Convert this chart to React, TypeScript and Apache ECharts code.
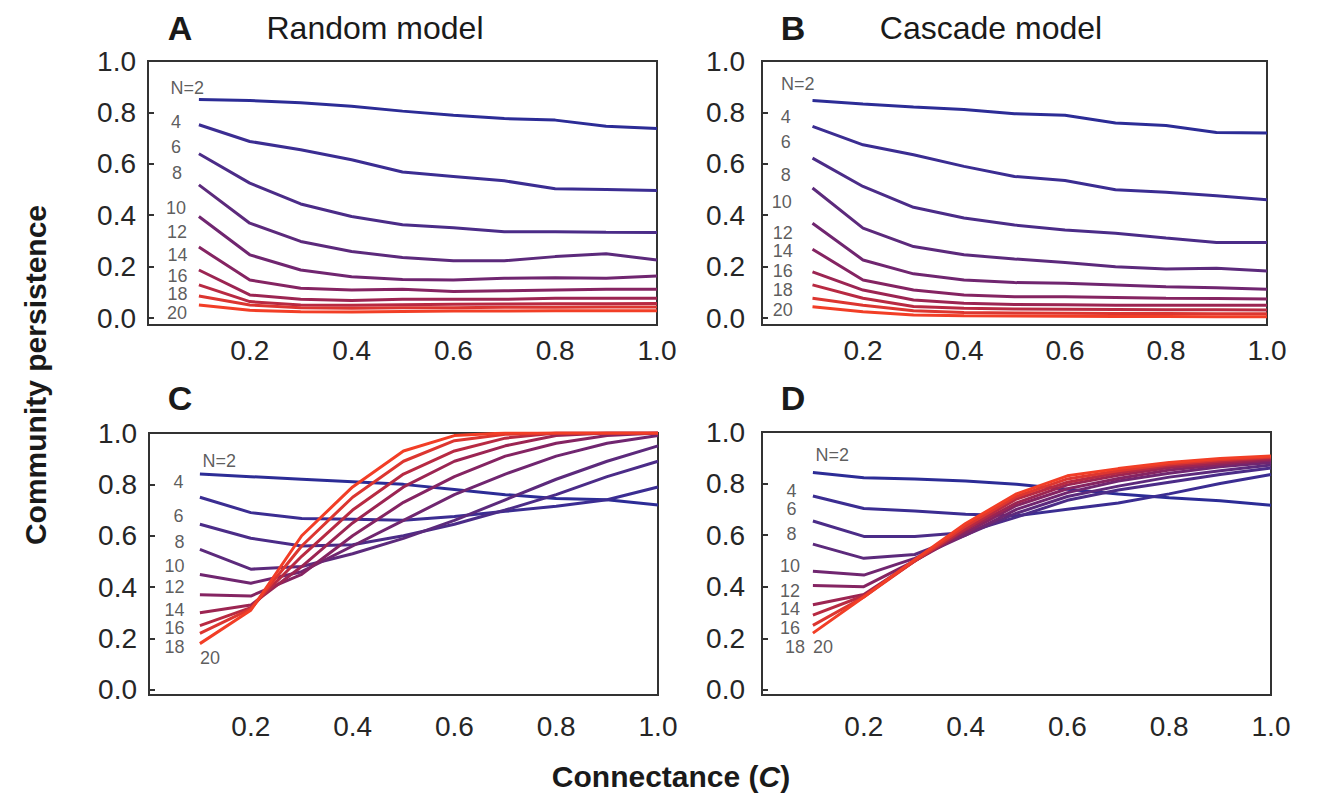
import React, { useEffect, useRef } from "react";
import * as echarts from "echarts";

// Connectance values (x)
const X = [0.1, 0.2, 0.3, 0.4, 0.5, 0.6, 0.7, 0.8, 0.9, 1.0];
const N_LABELS = ["N=2", "4", "6", "8", "10", "12", "14", "16", "18", "20"];
const Y_TICKS = [0, 0.2, 0.4, 0.6, 0.8, 1.0];
const X_TICKS = [0.2, 0.4, 0.6, 0.8, 1.0];

// Panel A – Random model (top)
const A2 = [0.85, 0.846, 0.838, 0.824, 0.805, 0.789, 0.776, 0.77, 0.746, 0.737];
const A4 = [0.752, 0.687, 0.655, 0.616, 0.568, 0.551, 0.534, 0.503, 0.5, 0.496];
const A6 = [0.639, 0.525, 0.444, 0.395, 0.363, 0.351, 0.336, 0.336, 0.334, 0.333];
const A8 = [0.518, 0.369, 0.298, 0.259, 0.236, 0.223, 0.223, 0.239, 0.25, 0.226];
const A10 = [0.395, 0.246, 0.187, 0.161, 0.15, 0.148, 0.155, 0.157, 0.155, 0.164];
const A12 = [0.276, 0.148, 0.116, 0.109, 0.112, 0.103, 0.106, 0.109, 0.112, 0.112];
const A14 = [0.187, 0.09, 0.073, 0.068, 0.073, 0.073, 0.073, 0.077, 0.077, 0.077];
const A16 = [0.129, 0.064, 0.051, 0.05, 0.052, 0.054, 0.055, 0.056, 0.056, 0.057];
const A18 = [0.086, 0.051, 0.04, 0.038, 0.04, 0.04, 0.042, 0.042, 0.043, 0.043];
const A20 = [0.051, 0.03, 0.025, 0.024, 0.026, 0.027, 0.027, 0.028, 0.028, 0.028];

// Panel B – Cascade model (top)
const B2 = [0.846, 0.833, 0.821, 0.811, 0.795, 0.789, 0.759, 0.749, 0.722, 0.72];
const B4 = [0.746, 0.674, 0.635, 0.59, 0.551, 0.535, 0.499, 0.489, 0.476, 0.46];
const B6 = [0.622, 0.512, 0.431, 0.389, 0.362, 0.343, 0.33, 0.311, 0.294, 0.294];
const B8 = [0.506, 0.35, 0.278, 0.246, 0.23, 0.216, 0.2, 0.191, 0.194, 0.183];
const B10 = [0.369, 0.226, 0.172, 0.148, 0.138, 0.135, 0.129, 0.122, 0.118, 0.112];
const B12 = [0.268, 0.148, 0.109, 0.09, 0.083, 0.083, 0.08, 0.077, 0.076, 0.074];
const B14 = [0.18, 0.109, 0.07, 0.058, 0.053, 0.052, 0.05, 0.05, 0.05, 0.05];
const B16 = [0.129, 0.077, 0.045, 0.038, 0.035, 0.034, 0.033, 0.032, 0.032, 0.031];
const B18 = [0.077, 0.05, 0.028, 0.022, 0.02, 0.019, 0.018, 0.018, 0.017, 0.017];
const B20 = [0.044, 0.025, 0.012, 0.009, 0.008, 0.007, 0.006, 0.006, 0.005, 0.005];

// Panel C – Random model (bottom)
const C2 = [0.84, 0.83, 0.82, 0.81, 0.8, 0.78, 0.76, 0.745, 0.74, 0.72];
const C4 = [0.75, 0.69, 0.667, 0.664, 0.66, 0.675, 0.695, 0.715, 0.74, 0.79];
const C6 = [0.645, 0.59, 0.56, 0.565, 0.6, 0.645, 0.7, 0.76, 0.83, 0.89];
const C8 = [0.547, 0.47, 0.48, 0.53, 0.59, 0.66, 0.74, 0.82, 0.89, 0.95];
const C10 = [0.449, 0.415, 0.46, 0.56, 0.66, 0.76, 0.84, 0.91, 0.96, 0.99];
const C12 = [0.37, 0.365, 0.45, 0.6, 0.73, 0.83, 0.91, 0.96, 0.99, 1.0];
const C14 = [0.3, 0.33, 0.48, 0.65, 0.79, 0.89, 0.95, 0.99, 1.0, 1.0];
const C16 = [0.25, 0.32, 0.52, 0.7, 0.84, 0.93, 0.98, 1.0, 1.0, 1.0];
const C18 = [0.22, 0.315, 0.56, 0.75, 0.89, 0.97, 0.995, 1.0, 1.0, 1.0];
const C20 = [0.18, 0.31, 0.6, 0.79, 0.93, 0.99, 1.0, 1.0, 1.0, 1.0];

// Panel D – Cascade model (bottom)
const D2 = [0.843, 0.823, 0.818, 0.81, 0.797, 0.778, 0.76, 0.745, 0.733, 0.716];
const D4 = [0.752, 0.703, 0.694, 0.681, 0.675, 0.7, 0.725, 0.76, 0.8, 0.835];
const D6 = [0.655, 0.595, 0.595, 0.61, 0.67, 0.735, 0.775, 0.805, 0.835, 0.86];
const D8 = [0.565, 0.51, 0.525, 0.6, 0.685, 0.75, 0.79, 0.825, 0.85, 0.872];
const D10 = [0.46, 0.445, 0.51, 0.6, 0.7, 0.765, 0.81, 0.84, 0.865, 0.882];
const D12 = [0.405, 0.4, 0.5, 0.61, 0.715, 0.78, 0.82, 0.853, 0.873, 0.89];
const D14 = [0.33, 0.37, 0.5, 0.62, 0.725, 0.795, 0.832, 0.862, 0.88, 0.895];
const D16 = [0.29, 0.365, 0.5, 0.625, 0.74, 0.805, 0.842, 0.87, 0.887, 0.9];
const D18 = [0.25, 0.36, 0.5, 0.635, 0.75, 0.818, 0.85, 0.876, 0.892, 0.903];
const D20 = [0.22, 0.36, 0.505, 0.645, 0.76, 0.83, 0.858, 0.882, 0.897, 0.907];

const PANEL_SERIES = [
  [A2, A4, A6, A8, A10, A12, A14, A16, A18, A20],
  [B2, B4, B6, B8, B10, B12, B14, B16, B18, B20],
  [C2, C4, C6, C8, C10, C12, C14, C16, C18, C20],
  [D2, D4, D6, D8, D10, D12, D14, D16, D18, D20],
];

// ---- layout / style (not data) ----
const COLORS = [
  "#2c2c96", "#3b2d92", "#4b2c88", "#5c2a7c", "#702670",
  "#852462", "#9c2552", "#b82a42", "#dc3630", "#f23e26",
];

// anchor of the N labels, in each panel's data coordinates
const LABEL_POS = [
  [[0.077, 0.895], [0.055, 0.764], [0.055, 0.667], [0.057, 0.565], [0.055, 0.428], [0.057, 0.334], [0.058, 0.246], [0.058, 0.165], [0.058, 0.092], [0.057, 0.018]],
  [[0.071, 0.912], [0.047, 0.784], [0.047, 0.686], [0.047, 0.557], [0.039, 0.452], [0.041, 0.332], [0.041, 0.259], [0.041, 0.183], [0.041, 0.11], [0.041, 0.032]],
  [[0.138, 0.89], [0.058, 0.809], [0.058, 0.676], [0.06, 0.574], [0.05, 0.482], [0.05, 0.402], [0.05, 0.312], [0.05, 0.24], [0.05, 0.168], [0.12, 0.125]],
  [[0.138, 0.911], [0.058, 0.772], [0.058, 0.7], [0.058, 0.603], [0.055, 0.479], [0.055, 0.385], [0.055, 0.312], [0.055, 0.24], [0.065, 0.167], [0.12, 0.167]],
];

const GRIDS = [
  { left: 148, top: 61, width: 509, height: 264, ymin: -0.027, yMargin: 12, xMargin: 11 },
  { left: 762, top: 61, width: 505, height: 264, ymin: -0.027, yMargin: 17, xMargin: 11 },
  { left: 149, top: 433, width: 509, height: 262, ymin: -0.02, yMargin: 12, xMargin: 17 },
  { left: 762, top: 432, width: 509, height: 263, ymin: -0.02, yMargin: 17, xMargin: 17 },
];

const FONT = "'Liberation Sans', Arial, Helvetica, sans-serif";
const TEXT = "#262626";

export default function App() {
  const ref = useRef<HTMLDivElement>(null);

  useEffect(() => {
    if (!ref.current) return;
    const chart = echarts.init(ref.current, undefined, { renderer: "svg" });

    const grid = GRIDS.map((g) => ({
      left: g.left,
      top: g.top,
      width: g.width,
      height: g.height,
      show: true,
      borderColor: "#333",
      borderWidth: 2,
      backgroundColor: "#fff",
    }));

    const xAxis = GRIDS.map((g, i) => ({
      type: "value",
      gridIndex: i,
      min: 0,
      max: 1,
      axisLine: { show: false },
      axisTick: { show: false },
      splitLine: { show: false },
      axisLabel: {
        customValues: X_TICKS,
        formatter: (v: number) => v.toFixed(1),
        fontSize: 28,
        fontFamily: FONT,
        color: TEXT,
        margin: g.xMargin,
      },
    }));

    const yAxis = GRIDS.map((g, i) => ({
      type: "value",
      gridIndex: i,
      min: g.ymin,
      max: 1,
      axisLine: { show: false },
      splitLine: { show: false },
      axisTick: {
        show: true,
        inside: true,
        length: 6,
        customValues: Y_TICKS,
        lineStyle: { color: "#333", width: 2 },
      },
      axisLabel: {
        customValues: Y_TICKS,
        formatter: (v: number) => v.toFixed(1),
        fontSize: 28,
        fontFamily: FONT,
        color: TEXT,
        margin: g.yMargin,
      },
    }));

    const series: any[] = [];
    PANEL_SERIES.forEach((lines, p) => {
      lines.forEach((vals, k) => {
        series.push({
          type: "line",
          name: `${"ABCD"[p]} ${N_LABELS[k]}`,
          xAxisIndex: p,
          yAxisIndex: p,
          data: X.map((x, j) => [x, vals[j]]),
          showSymbol: false,
          symbol: "none",
          lineStyle: { color: COLORS[k], width: 3 },
          z: 2 + k,
        });
      });
      series.push({
        type: "scatter",
        xAxisIndex: p,
        yAxisIndex: p,
        symbolSize: 0,
        silent: true,
        z: 30,
        data: LABEL_POS[p].map((pos, k) => ({ value: [pos[0], pos[1]], name: N_LABELS[k] })),
        label: {
          show: true,
          position: "inside",
          formatter: (d: any) => d.name,
          fontSize: 18,
          lineHeight: 14,
          fontFamily: FONT,
          color: "#333",
        },
      });
    });

    const title = (text: string, x: number, y: number, bold: boolean, size: number) => ({
      type: "text",
      x,
      y,
      style: {
        text,
        fill: "#1a1a1a",
        font: `${bold ? "bold " : ""}${size}px ${FONT}`,
        textAlign: "center",
        textVerticalAlign: "middle",
      },
    });

    chart.setOption({
      animation: false,
      backgroundColor: "#fff",
      grid,
      xAxis,
      yAxis,
      series,
      graphic: [
        title("A", 180, 28, true, 34),
        title("Random model", 375, 28, false, 32),
        title("B", 793, 28, true, 34),
        title("Cascade model", 991, 28, false, 32),
        title("C", 180, 398, true, 34),
        title("D", 793, 398, true, 34),
        {
          type: "text",
          x: 35,
          y: 375,
          rotation: Math.PI / 2,
          style: {
            text: "Community persistence",
            fill: "#1a1a1a",
            font: `bold 30px ${FONT}`,
            textAlign: "center",
            textVerticalAlign: "middle",
          },
        },
        {
          type: "text",
          x: 671,
          y: 776,
          style: {
            text: "{a|Connectance (}{b|C}{a|)}",
            textAlign: "center",
            textVerticalAlign: "middle",
            rich: {
              a: { font: `bold 30px ${FONT}`, fill: "#1a1a1a" },
              b: { font: `italic bold 30px ${FONT}`, fill: "#1a1a1a" },
            },
          },
        },
      ],
    });

    return () => chart.dispose();
  }, []);

  return (
    <div
      ref={ref}
      style={{ position: "fixed", left: 0, top: 0, width: 1317, height: 795, background: "#fff" }}
    />
  );
}
